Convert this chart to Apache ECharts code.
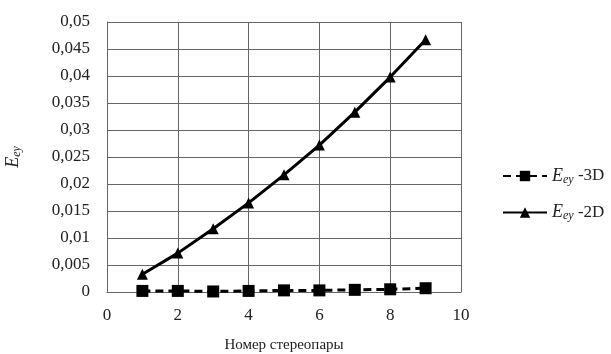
<!DOCTYPE html>
<html><head><meta charset="utf-8">
<script src="https://cdn.jsdelivr.net/npm/echarts@6/dist/echarts.min.js"></script>
<style>html,body{margin:0;padding:0;background:#fff}#c{width:611px;height:354px}</style>
</head><body><div id="c"></div>
<script>
var xValues = [1, 2, 3, 4, 5, 6, 7, 8, 9];
var ey3D = [0.0002, 0.0002, 0.0001, 0.0002, 0.0003, 0.0003, 0.0004, 0.0005, 0.0007];
var ey2D = [0.0033, 0.0072, 0.0117, 0.0165, 0.0217, 0.0272, 0.0333, 0.0398, 0.0467];
var seriesNames = ['Eey-3D', 'Eey-2D'];

var font = 'Liberation Serif';
var rich = {
  i: {fontFamily: font, fontStyle: 'italic', fontSize: 18, color: '#222'},
  s: {fontFamily: font, fontStyle: 'italic', fontSize: 12, color: '#222', verticalAlign: 'bottom', padding: [7, 0, 0, 0]},
  n: {fontFamily: font, fontSize: 17, color: '#222'}
};
function pairs(vals) { return xValues.map(function (x, i) { return [x, vals[i]]; }); }
function fmt(v) { return String(+v.toFixed(4)).replace('.', ','); }

var chart = echarts.init(document.getElementById('c'), null, {renderer: 'canvas'});
chart.setOption({
  animation: false,
  backgroundColor: '#fff',
  grid: {left: 107, top: 22, right: 150, bottom: 62, containLabel: false, outerBoundsMode: 'none'},
  xAxis: {
    type: 'value', min: 0, max: 10, interval: 2,
    name: 'Номер стереопары', nameLocation: 'middle', nameGap: 46,
    nameTextStyle: {fontFamily: font, fontSize: 15, color: '#222'},
    axisLine: {lineStyle: {color: '#666', width: 1}},
    axisTick: {show: false},
    axisLabel: {fontFamily: font, fontSize: 17, color: '#222', margin: 15},
    splitLine: {show: true, lineStyle: {color: '#666', width: 1}}
  },
  yAxis: {
    type: 'value', min: 0, max: 0.05, interval: 0.005,
    name: '{i|E}{s|ey}', nameLocation: 'middle', nameGap: 84,
    nameTextStyle: {rich: rich},
    axisLine: {show: true, lineStyle: {color: '#666', width: 1}},
    axisTick: {show: false},
    axisLabel: {fontFamily: font, fontSize: 17, color: '#222', margin: 17, formatter: fmt},
    splitLine: {show: true, lineStyle: {color: '#666', width: 1}}
  },
  legend: {
    orient: 'vertical', left: 497, top: 162, itemWidth: 44, itemHeight: 13, itemGap: 18,
    data: seriesNames,
    formatter: function (n) { return '{i|E}{s|ey}{n| -' + n.split('-')[1] + '}'; },
    textStyle: {rich: rich}
  },
  series: [
    {
      name: seriesNames[0], type: 'line', data: pairs(ey3D),
      symbol: 'rect', symbolSize: 12,
      lineStyle: {color: '#000', width: 3, type: [8, 5]},
      itemStyle: {color: '#000'}, z: 3
    },
    {
      name: seriesNames[1], type: 'line', data: pairs(ey2D),
      symbol: 'triangle', symbolSize: 11,
      lineStyle: {color: '#000', width: 3},
      itemStyle: {color: '#000'}, z: 4
    }
  ]
});
</script></body></html>
